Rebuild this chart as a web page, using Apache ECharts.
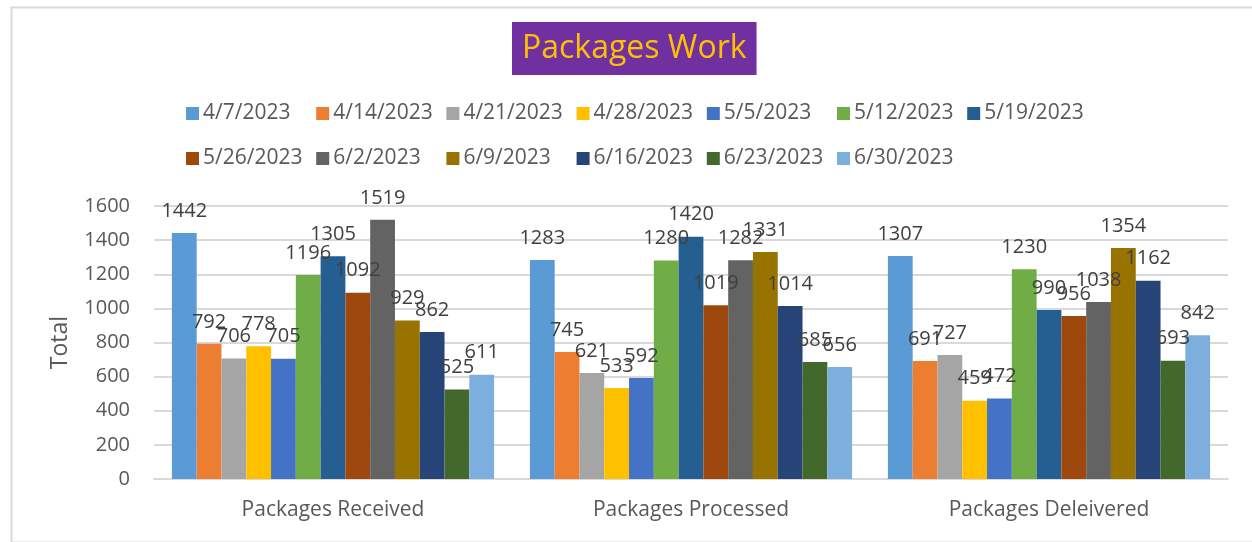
<!DOCTYPE html>
<html><head><meta charset="utf-8">
<script src="https://cdn.jsdelivr.net/npm/echarts@6/dist/echarts.min.js"></script>
<style>html,body{margin:0;padding:0;background:#fff}#c{width:1252px;height:542px}</style>
</head><body><div id="c"></div>
<script>
const categories = ['Packages Received', 'Packages Processed', 'Packages Deleivered'];
const seriesNames = ['4/7/2023','4/14/2023','4/21/2023','4/28/2023','5/5/2023','5/12/2023','5/19/2023','5/26/2023','6/2/2023','6/9/2023','6/16/2023','6/23/2023','6/30/2023'];
const received  = [1442, 792, 706, 778, 705, 1196, 1305, 1092, 1519, 929, 862, 525, 611];
const processed = [1283, 745, 621, 533, 592, 1280, 1420, 1019, 1282, 1331, 1014, 685, 656];
const delivered = [1307, 691, 727, 459, 472, 1230, 990, 956, 1038, 1354, 1162, 693, 842];
const colors = ['#5B9BD5','#ED7D31','#A5A5A5','#FFC000','#4472C4','#70AD47','#255E91','#9E480E','#636363','#997300','#264478','#43682B','#7CAFDD'];
const yTicks = [0, 200, 400, 600, 800, 1000, 1200, 1400, 1600];

const font = '"Open Sans", sans-serif';
const chart = echarts.init(document.getElementById('c'));
const series = seriesNames.map((n, i) => ({
  name: n,
  type: 'bar',
  barGap: '0%',
  barCategoryGap: '10%',
  itemStyle: { color: colors[i] },
  label: { show: true, position: 'top', distance: 12, color: '#404040', fontSize: 20, fontFamily: font },
  data: [received[i], processed[i], delivered[i]]
}));
// one legend per entry, laid out in fixed-width slots (7 per row)
const legends = seriesNames.map((n, i) => ({
  data: [n],
  left: 186 + 130.2 * (i % 7),
  top: i < 7 ? 103 : 148,
  padding: 0,
  itemWidth: 13, itemHeight: 13, icon: 'rect',
  textStyle: { fontSize: 21, color: '#595959', fontFamily: font, padding: [0, 0, 0, -1] }
}));
chart.setOption({
  animation: false,
  color: colors,
  title: {
    text: 'Packages Work', left: 512, top: 22,
    backgroundColor: '#7030A0', padding: [8, 10, 8, 10],
    textStyle: { color: '#FFC000', fontSize: 32, fontWeight: 'normal', fontFamily: font, lineHeight: 37 }
  },
  legend: legends,
  grid: { left: 154, right: 24, top: 206, bottom: 63 },
  xAxis: {
    type: 'category', data: categories,
    axisLine: { lineStyle: { color: '#D9D9D9', width: 2 } },
    axisTick: { show: false },
    axisLabel: { fontSize: 21, color: '#595959', fontFamily: font, margin: 21 }
  },
  yAxis: {
    type: 'value', min: 0, max: 1600, interval: 200,
    name: 'Total', nameLocation: 'middle', nameGap: 82,
    nameTextStyle: { fontSize: 23, color: '#595959', fontFamily: font },
    axisLine: { show: false }, axisTick: { show: false },
    axisLabel: { fontSize: 20, color: '#595959', fontFamily: font, margin: 24,
      formatter: v => yTicks.includes(v) ? String(v) : '' },
    splitLine: { lineStyle: { color: '#D9D9D9', width: 2 } }
  },
  graphic: [{
    type: 'rect', left: 9, top: 5, shape: { width: 1260, height: 535 },
    style: { fill: 'none', stroke: '#D9D9D9', lineWidth: 2 }, silent: true, z: -1
  }],
  series: series
});
</script></body></html>
